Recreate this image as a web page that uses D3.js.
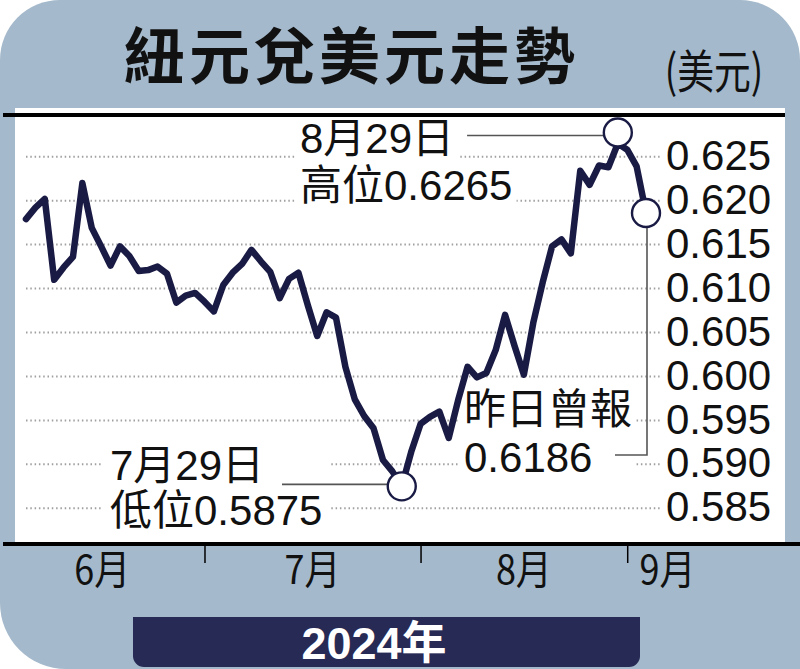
<!DOCTYPE html>
<html>
<head>
<meta charset="utf-8">
<script src="https://cdn.jsdelivr.net/npm/d3@7"></script>
<style>
  body { margin: 0; background: #fff; }
  svg { display: block; }
</style>
</head>
<body>
<div id="chart"></div>
<script>
// trading days, 4 Jun - 4 Sep 2024
const dates = [
  "6/4","6/5","6/6","6/7","6/10","6/11","6/12","6/13","6/14","6/17","6/18","6/19","6/20","6/21","6/24","6/25","6/26","6/27","6/28",
  "7/1","7/2","7/3","7/4","7/5","7/8","7/9","7/10","7/11","7/12","7/15","7/16","7/17","7/18","7/19","7/22","7/23","7/24","7/25","7/26","7/29","7/30","7/31",
  "8/1","8/2","8/5","8/6","8/7","8/8","8/9","8/12","8/13","8/14","8/15","8/16","8/19","8/20","8/21","8/22","8/23","8/26","8/27","8/28","8/29","8/30",
  "9/2","9/3","9/4"
];
// NZD/USD
const rates = [
  0.6179,0.6192,0.6202,0.6110,0.6124,0.6136,0.6220,0.6169,0.6148,0.6126,0.6148,0.6137,0.6120,0.6121,0.6125,0.6117,0.6084,0.6092,0.6095,
  0.6085,0.6074,0.6104,0.6118,0.6128,0.6144,0.6131,0.6119,0.6089,0.6111,0.6118,0.6081,0.6046,0.6073,0.6067,0.6011,0.5974,0.5955,0.5941,0.5905,0.5892,0.5875,0.5914,
  0.5946,0.5954,0.5960,0.5930,0.5973,0.6011,0.5999,0.6004,0.6030,0.6070,0.6035,0.6002,0.6061,0.6107,0.6148,0.6156,0.6140,0.6234,0.6218,0.6240,0.6238,0.6265,
  0.6258,0.6239,0.6186
];
const yTicks = [0.585, 0.590, 0.595, 0.600, 0.605, 0.610, 0.615, 0.620, 0.625];
const monthLabels = ["6月", "7月", "8月", "9月"];
const title = "紐元兌美元走勢";
const unit = "(美元)";
const yearLabel = "2024年";
const highNote = ["8月29日", "高位0.6265"];
const lowNote = ["7月29日", "低位0.5875"];
const lastNote = ["昨日曾報", "0.6186"];

const W = 800, H = 669;
const blue = "#a4b9cb", navy = "#1a1b45";
const latin = "'Liberation Sans', Arial, 'Noto Sans CJK TC', sans-serif";
const cjk = "'Noto Sans CJK TC', 'Noto Sans CJK SC', sans-serif";

const svg = d3.select("#chart").append("svg")
  .attr("width", W).attr("height", H);

// blue card with rounded corners (bottom right is square)
svg.append("path")
  .attr("d", "M0,60 A60,60 0 0 1 60,0 L740,0 A60,60 0 0 1 800,60 L800,669 L66,669 A66,66 0 0 1 0,603 Z")
  .attr("fill", blue);

// white plot panel
svg.append("rect").attr("x", 15).attr("y", 108).attr("width", 770).attr("height", 436).attr("fill", "#fff");

// title
svg.append("text")
  .attr("x", 124).attr("y", 79)
  .attr("font-family", cjk).attr("font-size", 61).attr("font-weight", 700)
  .attr("letter-spacing", 4).attr("fill", "#111")
  .text(title);

svg.append("g").attr("transform", "translate(714,88) scale(0.8,1)")
  .append("text")
  .attr("text-anchor", "middle")
  .attr("font-family", cjk).attr("font-size", 46).attr("fill", "#111")
  .text(unit);

const x = d3.scaleLinear().domain([0, dates.length - 1]).range([26, 646]);
const y = d3.scaleLinear().domain([0.585, 0.625]).range([508.3, 156.7]);

// dotted grid
svg.append("g").selectAll("line").data(yTicks).join("line")
  .attr("x1", 26).attr("x2", 661)
  .attr("y1", d => y(d)).attr("y2", d => y(d))
  .attr("stroke", "#a0a0a0").attr("stroke-width", 2)
  .attr("stroke-dasharray", "1.5 2.8");

// y axis labels on the right
const yAxis = svg.append("g")
  .attr("transform", "translate(666,0)")
  .call(d3.axisRight(y).tickValues(yTicks).tickSize(0).tickPadding(0).tickFormat(d3.format(".3f")));
yAxis.select(".domain").remove();
yAxis.selectAll("text")
  .attr("font-family", latin).attr("font-size", 42).attr("fill", "#111")
  .attr("dy", "0.3em");

// layer for white knock-out boxes behind notes
const boxes = svg.append("g");

// rate line
svg.append("path")
  .datum(rates)
  .attr("fill", "none")
  .attr("stroke", navy)
  .attr("stroke-width", 6.5)
  .attr("stroke-linejoin", "round")
  .attr("stroke-linecap", "round")
  .attr("d", d3.line().x((d, i) => x(i)).y(d => y(d)));

// top rule
svg.append("line").attr("x1", 3).attr("x2", 785).attr("y1", 115).attr("y2", 115)
  .attr("stroke", "#000").attr("stroke-width", 4);

// month axis
const monthOf = d => +d.split("/")[0];
const monthStarts = dates.map((d, i) => i).filter(i => i > 0 && monthOf(dates[i]) !== monthOf(dates[i - 1]));

const xAxis = svg.append("g")
  .attr("transform", "translate(0,544)")
  .call(d3.axisBottom(x).tickValues(monthStarts).tickSize(19).tickFormat(""));
xAxis.select(".domain").remove();
xAxis.selectAll("line").attr("stroke", "#000").attr("stroke-width", 1.5);

svg.append("line").attr("x1", 3).attr("x2", 800).attr("y1", 544).attr("y2", 544)
  .attr("stroke", "#000").attr("stroke-width", 4);

const bounds = [0, ...monthStarts.map(i => x(i)), 708];
svg.append("g").selectAll("g").data(monthLabels).join("g")
  .attr("transform", (d, i) => `translate(${(bounds[i] + bounds[i + 1]) / 2},584) scale(0.9,1)`)
  .append("text")
  .attr("text-anchor", "middle")
  .attr("font-family", cjk).attr("font-size", 40).attr("fill", "#111")
  .text(d => d);

// year tab
const tab = svg.append("g");
tab.append("rect").attr("x", 133).attr("y", 617).attr("width", 507).attr("height", 50).attr("rx", 11).attr("fill", "#272a54");
tab.append("rect").attr("x", 133).attr("y", 617).attr("width", 507).attr("height", 20).attr("fill", "#272a54");
tab.append("text")
  .attr("x", 374).attr("y", 659)
  .attr("text-anchor", "middle")
  .attr("font-family", latin).attr("font-size", 45).attr("font-weight", 700).attr("fill", "#fff")
  .text(yearLabel);

// notes
const notes = svg.append("g");
function note(lines, x0, y0, gap) {
  const g = notes.append("g");
  const texts = lines.map((t, k) => g.append("text")
    .attr("x", x0).attr("y", y0 + k * gap)
    .attr("font-family", latin).attr("font-size", 42).attr("fill", "#111")
    .text(t));
  return texts.map(t => t.node().getBBox());
}
function knockout(b, padX) {
  boxes.append("rect")
    .attr("x", b.x - padX).attr("y", b.y + 4)
    .attr("width", b.width + padX * 2)
    .attr("height", b.height - 6)
    .attr("fill", "#fff");
}
function union(bs) {
  return { x: bs[0].x, y: bs[0].y, width: Math.max(bs[0].width, bs[1].width), height: bs[1].y + bs[1].height - bs[0].y };
}

const iMax = d3.maxIndex(rates), iMin = d3.minIndex(rates), iLast = rates.length - 1;
const hi = { x: x(iMax), y: y(rates[iMax]) - 11 };
const lo = { x: x(iMin), y: y(rates[iMin]) };
const last = { x: x(iLast), y: y(rates[iLast]) };

const hb = note(highNote, 300, 153, 47);
hb.forEach(b => knockout(b, 4));
const lb = note(lowNote, 110, 480, 45);
knockout(union(lb), 8);
const eb = note(lastNote, 464, 424, 48);
knockout(union(eb), 4);

// leader lines
const leaders = svg.append("g").attr("stroke", "#555").attr("stroke-width", 1.6).attr("fill", "none");
leaders.append("path").attr("d", `M${hb[0].x + hb[0].width + 13},${hi.y + 3}H${hi.x}`);
leaders.append("path").attr("d", `M282,${lo.y - 2}H${lo.x}`);
leaders.append("path").attr("d", `M${last.x + 1},${last.y}V455H615`);

// circles
svg.append("g").selectAll("circle").data([hi, lo, last]).join("circle")
  .attr("cx", d => d.x).attr("cy", d => d.y).attr("r", 14)
  .attr("fill", "#fff").attr("stroke", navy).attr("stroke-width", 2.4);

notes.raise();
</script>
</body>
</html>
